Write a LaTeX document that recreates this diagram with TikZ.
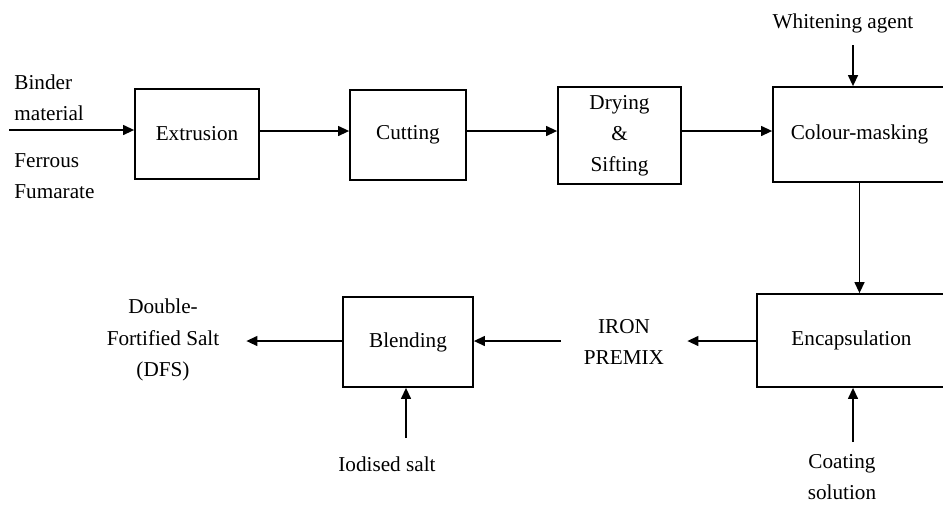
\documentclass[tikz,border=0pt]{standalone}
\usepackage{fontspec}
\setmainfont{Liberation Serif}
\usetikzlibrary{arrows.meta}

\tikzset{
  proc/.style={draw, line width=0.9pt, inner sep=0pt, align=center},
  lbl/.style={inner sep=0pt, align=center},
  arr/.style={-{Triangle[length=5.5pt,width=5pt]}, line width=0.65pt},
}

\begin{document}
\begin{tikzpicture}[x=0.5pt,y=-0.5pt,font=\fontsize{10.6}{15.6}\selectfont]
		\useasboundingbox (0,0) rectangle (943,505);
		% process boxes
		\node[proc, minimum width=62pt, minimum height=45pt] (ext) at (197,134) {Extrusion};
		\node[proc, minimum width=58pt, minimum height=45pt] (cut) at (408,135) {Cutting};
		\node[proc, minimum width=61.5pt, minimum height=48.5pt] (dry) at (619.5,135.5) {Drying\\\&\\Sifting};
		\node[proc, minimum width=86.5pt, minimum height=47.5pt] (col) at (859.5,134.5) {Colour-masking};
		\node[proc, minimum width=94.5pt, minimum height=46.5pt] (enc) at (851.5,340.5) {Encapsulation};
		\node[proc, minimum width=65pt, minimum height=45pt] (bld) at (408,342) {Blending};
		% inputs and outputs
		\node[lbl, anchor=west, align=left] (bind) at (14,97.5) {Binder\\material};
		\node[lbl, anchor=west, align=left] (ferr) at (14,176.5) {Ferrous\\Fumarate};
		\node[lbl] (wht) at (843,23) {Whitening agent};
		\node[lbl, minimum width=63pt] (iron) at (624,342) {IRON\\PREMIX};
		\node[lbl, minimum width=83pt] (dfs) at (163,340) {Double-\\Fortified Salt\\(DFS)};
		\node[lbl] (iod) at (387,464) {Iodised salt};
		\node[lbl] (coat) at (842,477) {Coating\\solution};
		\coordinate (src) at (9,130);
		\coordinate (row1) at (0,131);
		\coordinate (row2) at (0,341);
		\coordinate (whtin) at (853,45);
		\coordinate (coatin) at (853,442);
		\coordinate (iodin) at (406,438);
		% flow
		\draw[arr] (src) -- (src -| ext.west);
		\draw[arr] (ext.east |- row1) -- (cut.west |- row1);
		\draw[arr] (cut.east |- row1) -- (dry.west |- row1);
		\draw[arr] (dry.east |- row1) -- (col.west |- row1);
		\draw[arr] (whtin) -- (whtin |- col.north);
		\draw[arr] (col.south) -- (col.south |- enc.north);
		\draw[arr] (coatin) -- (coatin |- enc.south);
		\draw[arr] (enc.west |- row2) -- (iron.east |- row2);
		\draw[arr] (iron.west |- row2) -- (bld.east |- row2);
		\draw[arr] (iodin) -- (iodin |- bld.south);
		\draw[arr] (bld.west |- row2) -- (dfs.east |- row2);
\end{tikzpicture}
\end{document}
